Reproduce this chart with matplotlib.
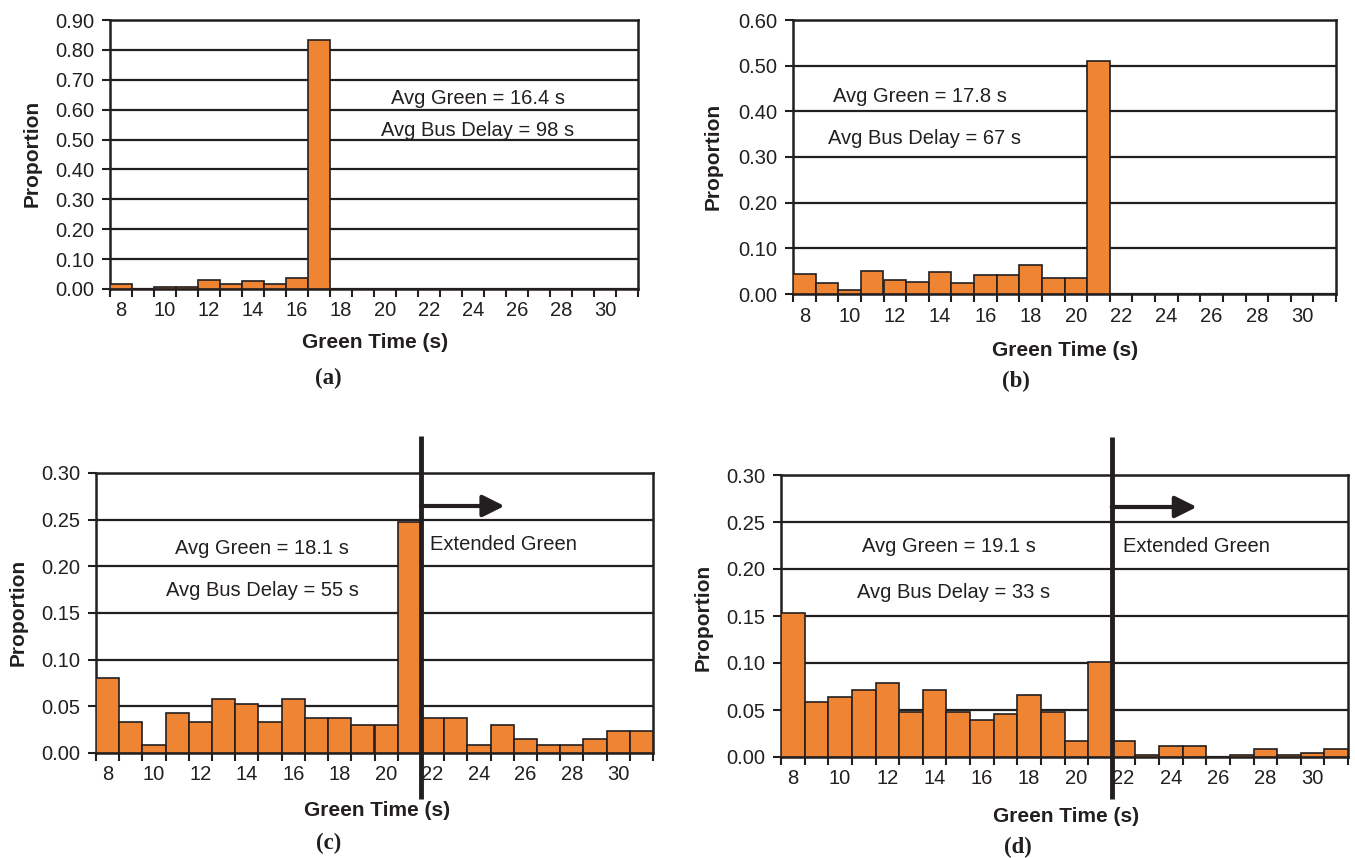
import matplotlib
matplotlib.use('Agg')
import matplotlib.pyplot as plt
from matplotlib.ticker import FixedLocator, FormatStrFormatter
from matplotlib.transforms import blended_transform_factory

plt.rcParams['font.family'] = ['Liberation Sans', 'DejaVu Sans']

# ---------------- data ----------------
green_times = list(range(8, 32))                     # categories (s)
tick_values = list(range(8, 31, 2))                  # labelled categories
tick_labels = [str(t) for t in tick_values]

prop_a = [0.018, 0.0, 0.008, 0.008, 0.031, 0.018, 0.027, 0.018, 0.038, 0.833,
          0, 0, 0, 0, 0, 0, 0, 0, 0, 0, 0, 0, 0, 0]
prop_b = [0.044, 0.024, 0.009, 0.051, 0.031, 0.027, 0.048, 0.023, 0.042, 0.042,
          0.063, 0.036, 0.036, 0.511, 0, 0, 0, 0, 0, 0, 0, 0, 0, 0]
prop_c = [0.080, 0.033, 0.009, 0.043, 0.033, 0.058, 0.053, 0.033, 0.058, 0.037,
          0.037, 0.030, 0.030, 0.247, 0.037, 0.037, 0.009, 0.030, 0.015, 0.009,
          0.009, 0.015, 0.024, 0.024]
prop_d = [0.153, 0.058, 0.064, 0.071, 0.079, 0.048, 0.071, 0.048, 0.039, 0.046,
          0.066, 0.048, 0.017, 0.101, 0.017, 0.002, 0.012, 0.012, 0.0, 0.002,
          0.008, 0.002, 0.004, 0.008]

avg_text = {
    'a': ('Avg Green = 16.4 s', 'Avg Bus Delay = 98 s'),
    'b': ('Avg Green = 17.8 s', 'Avg Bus Delay = 67 s'),
    'c': ('Avg Green = 18.1 s', 'Avg Bus Delay = 55 s'),
    'd': ('Avg Green = 19.1 s', 'Avg Bus Delay = 33 s'),
}
extended_from = 21.5      # boundary (s) where extended green begins
extended_to = 25.1        # arrow tip (s)

# ---------------- layout ----------------
W, H = 1355, 858
fig = plt.figure(figsize=(W / 100, H / 100), dpi=100)

BAR = '#EF8432'
INK = '#231F20'


def fx(x):
    return x / W


def fy(y):
    return 1 - y / H


def panel(key, values, rect, ymax, ystep, txt_pos, ylabel_pos, xlabel_pos,
          tag_pos, ext=None):
    left, right, top, bottom = rect
    ax = fig.add_axes([fx(left), fy(bottom), (right - left) / W, (bottom - top) / H])
    x = [g for g in green_times]
    ax.bar(x, values, width=1.0, color=BAR, edgecolor=INK, linewidth=1.2, zorder=3)
    ax.set_xlim(green_times[0] - 0.5, green_times[-1] + 0.5)
    ax.set_ylim(0, ymax)
    n = int(round(ymax / ystep))
    yt = [i * ystep for i in range(n + 1)]
    ax.set_yticks(yt)
    ax.yaxis.set_major_formatter(FormatStrFormatter('%.2f'))
    ax.grid(axis='y', color=INK, linewidth=1.6, zorder=0)
    ax.set_axisbelow(True)
    ax.set_xticks(tick_values)
    ax.set_xticklabels(tick_labels)
    ax.xaxis.set_minor_locator(FixedLocator([g - 0.5 for g in green_times] + [green_times[-1] + 0.5]))
    ax.tick_params(axis='x', which='major', length=0, pad=9, labelsize=14.5, colors=INK)
    ax.tick_params(axis='x', which='minor', length=6, width=1.5, color=INK, direction='out')
    ax.tick_params(axis='y', which='major', length=6, width=1.5, color=INK, pad=5,
                   labelsize=14.5, labelcolor=INK)
    for s in ax.spines.values():
        s.set_color(INK)
        s.set_linewidth(1.8)

    # annotations
    (x1, y1), (x2, y2) = txt_pos
    fig.text(fx(x1), fy(y1), avg_text[key][0], ha='center', va='center',
             fontsize=14.5, color=INK)
    fig.text(fx(x2), fy(y2), avg_text[key][1], ha='center', va='center',
             fontsize=14.5, color=INK)

    fig.text(fx(ylabel_pos[0]), fy(ylabel_pos[1]), 'Proportion', rotation=90,
             ha='center', va='center', fontsize=15, fontweight='bold', color=INK)
    fig.text(fx(xlabel_pos[0]), fy(xlabel_pos[1]), 'Green Time (s)',
             ha='center', va='center', fontsize=15, fontweight='bold', color=INK)
    fig.text(fx(tag_pos[0]), fy(tag_pos[1]), '(%s)' % key, ha='center', va='center',
             fontsize=16.5, fontweight='bold', color=INK,
             family=['Liberation Serif', 'DejaVu Serif'])

    if ext is not None:
        line_top, line_bot, arrow_y, ext_text_pos = ext
        trans = blended_transform_factory(ax.transData, ax.transAxes)
        h = bottom - top
        yt_frac = (bottom - line_top) / h
        yb_frac = (bottom - line_bot) / h
        ya_frac = (bottom - arrow_y) / h
        ax.plot([extended_from, extended_from], [yb_frac, yt_frac], transform=trans,
                color=INK, linewidth=3.5, clip_on=False, zorder=6,
                solid_capstyle='butt')
        ax.annotate('', xy=(extended_to, ya_frac), xytext=(extended_from, ya_frac),
                    xycoords=trans, textcoords=trans, annotation_clip=False,
                    arrowprops=dict(arrowstyle='-|>,head_length=0.6,head_width=0.3',
                                    color=INK, lw=3,
                                    mutation_scale=22, shrinkA=0, shrinkB=0),
                    zorder=6)
        fig.text(fx(ext_text_pos[0]), fy(ext_text_pos[1]), 'Extended Green',
                 ha='left', va='center', fontsize=14.5, color=INK)
    return ax


panel('a', prop_a, (110, 638, 20, 289), 0.90, 0.10,
      ((478, 98), (478, 131)), (32, 153), (375, 343), (328, 378))
panel('b', prop_b, (793, 1336, 20, 294), 0.60, 0.10,
      ((920, 96), (925, 138)), (713, 156), (1065, 350), (1016, 381))
panel('c', prop_c, (96, 653, 473, 753), 0.30, 0.05,
      ((262, 548), (262, 591)), (18, 612), (377, 810), (329, 843),
      ext=(436, 799, 506, (430, 545)))
panel('d', prop_d, (781, 1348, 475, 757), 0.30, 0.05,
      ((949, 547), (954, 592)), (703, 617), (1066, 816), (1018, 847),
      ext=(437, 799, 507, (1123, 546)))

fig.savefig('out.png', dpi=100)
